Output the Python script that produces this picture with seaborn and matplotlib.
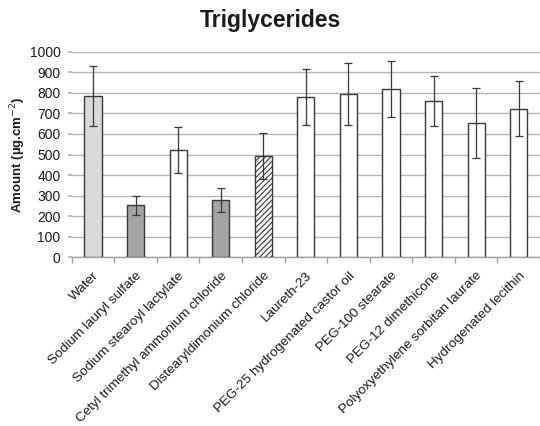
import matplotlib
matplotlib.use("Agg")
import matplotlib.pyplot as plt
import seaborn as sns
import pandas as pd
import numpy as np

categories = ["Water", "Sodium lauryl sulfate", "Sodium stearoyl lactylate",
              "Cetyl trimethyl ammonium chloride", "Distearyldimonium chloride",
              "Laureth-23", "PEG-25 hydrogenated castor oil", "PEG-100 stearate",
              "PEG-12 dimethicone", "Polyoxyethylene sorbitan laurate",
              "Hydrogenated lecithin"]
values = [785, 252, 522, 278, 491, 780, 795, 818, 760, 653, 723]
errors = [145, 47, 110, 60, 112, 135, 150, 135, 120, 170, 135]
colors = ["#d9d9d9", "#a3a3a3", "#ffffff", "#a3a3a3", "#ffffff",
          "#ffffff", "#ffffff", "#ffffff", "#ffffff", "#ffffff", "#ffffff"]
yticks = [0, 100, 200, 300, 400, 500, 600, 700, 800, 900, 1000]

sns.set_theme(style="white")
plt.rcParams['font.family'] = ['Liberation Sans', 'DejaVu Sans']
plt.rcParams['hatch.color'] = '#404040'
plt.rcParams['hatch.linewidth'] = 0.8

df = pd.DataFrame({"cat": categories, "val": values})

fig = plt.figure(figsize=(5.4, 4.26), dpi=100)
ax = fig.add_axes([0.1328, 0.396, 0.8672, 0.4826])

sns.barplot(data=df, x="cat", y="val", hue="cat", palette=colors, legend=False,
            width=0.40, edgecolor="#383838", linewidth=1.0, ax=ax, zorder=3)
for i, p in enumerate(ax.patches):
    if i == 4:
        p.set_hatch("//////")
ax.errorbar(np.arange(len(categories)), values, yerr=errors, fmt="none",
            ecolor="#383838", elinewidth=0.9, capsize=3, capthick=0.9, zorder=4)

ax.set_ylim(0, 1000)
ax.set_yticks(yticks)
ax.set_xlim(-0.5, 10.42)
ax.yaxis.grid(True, color="#b5b5b5", linewidth=1.0, zorder=0)
ax.set_axisbelow(True)
for s in ["top", "right", "left"]:
    ax.spines[s].set_visible(False)
ax.spines["bottom"].set_color("#a0a0a0")
ax.spines["bottom"].set_linewidth(1.0)

ax.set_xticks(np.arange(len(categories)))
ax.set_xticklabels(categories, rotation=45, ha="right", rotation_mode="anchor",
                   fontsize=9.7, color="#1a1a1a")
ax.tick_params(axis="x", length=0, pad=9)
ax.set_xticks(np.arange(-0.5, 11, 1), minor=True)
ax.tick_params(axis="x", which="minor", length=4, color="#a0a0a0", width=1, direction="out", bottom=True)
ax.tick_params(axis="y", labelsize=10, labelcolor="#1a1a1a", length=3, color="#b5b5b5", left=True, pad=5)

ax.set_xlabel("")
ax.set_ylabel("Amount (µg.cm$^{-2}$)", fontsize=9.5, fontweight="bold", color="#1a1a1a")
ax.yaxis.set_label_coords(-0.093, 0.5)
fig.text(0.5, 0.952, "Triglycerides", ha="center", va="center", fontsize=16.5, fontweight="bold", color="#1a1a1a")

fig.savefig("out.png", dpi=100)
